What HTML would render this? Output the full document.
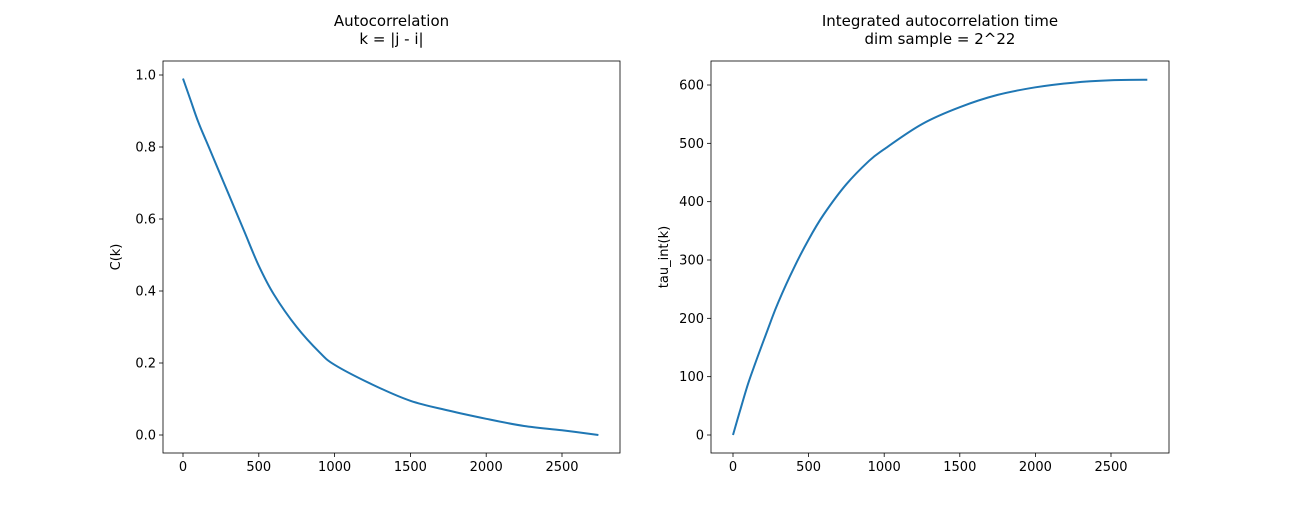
<!DOCTYPE html>
<html><head><meta charset="utf-8"><style>
body{margin:0;background:#fff;font-family:"Liberation Sans","DejaVu Sans",sans-serif}
svg text{font-family:"DejaVu Sans","Liberation Sans",sans-serif;font-size:13px;fill:#000}
</style></head><body>
<svg id="c" width="1299" height="509"></svg>
<script>
const ks=[0,50,100,150,200,250,300,400,500,600,750,900,1000,1250,1500,1750,2000,2250,2500,2740];
const acf=[0.99,0.93,0.87,0.82,0.77,0.72,0.67,0.57,0.47,0.39,0.30,0.23,0.195,0.14,0.095,0.068,0.045,0.025,0.013,0.0];
const tau=[0,45,88,125,160,195,228,285,335,378,430,470,490,533,562,583,596,604,608,609];
const xTicks=[0,500,1000,1500,2000,2500];
const yTicksL=[0,0.2,0.4,0.6,0.8,1.0];
const yTicksR=[0,100,200,300,400,500,600];
const NS="http://www.w3.org/2000/svg";
const svg=document.getElementById('c');
function el(t,a,p){const e=document.createElementNS(NS,t);for(const k in a)e.setAttribute(k,a[k]);(p||svg).appendChild(e);return e;}
function smooth(pts){
  let d='M'+pts[0][0].toFixed(1)+' '+pts[0][1].toFixed(1);
  for(let i=0;i<pts.length-1;i++){
    const p0=pts[Math.max(0,i-1)],p1=pts[i],p2=pts[i+1],p3=pts[Math.min(pts.length-1,i+2)];
    const c1=[p1[0]+(p2[0]-p0[0])/6,p1[1]+(p2[1]-p0[1])/6];
    const c2=[p2[0]-(p3[0]-p1[0])/6,p2[1]-(p3[1]-p1[1])/6];
    d+='C'+c1.map(v=>v.toFixed(1)).join(' ')+' '+c2.map(v=>v.toFixed(1)).join(' ')+' '+p2[0].toFixed(1)+' '+p2[1].toFixed(1);
  }
  return d;
}
function panel(x0,x1,y0,y1,xs,ys,vals,yt,fmt,titles,ylab,nm){
  const g=el('g',{});
  
  
  const b=el('rect',{x:x0,y:y0,width:x1-x0,height:y1-y0,fill:'none',stroke:'#000','stroke-width':0.8},g);
  
  
  xTicks.forEach(v=>{const x=xs(v);
    el('line',{x1:x,x2:x,y1:y1,y2:y1+4,stroke:'#000','stroke-width':0.8},g);
    const t=el('text',{x:x,y:y1+18,'text-anchor':'middle'},g);t.textContent=v;
    
    });
  yt.forEach(v=>{const y=ys(v);
    el('line',{x1:x0-4,x2:x0,y1:y,y2:y,stroke:'#000','stroke-width':0.8},g);
    const t=el('text',{x:x0-7,y:y+4.5,'text-anchor':'end'},g);t.textContent=fmt(v);
    
    });
  const p=el('path',{d:smooth(ks.map((k,i)=>[xs(k),ys(vals[i])])),fill:'none',stroke:'#1f77b4','stroke-width':2},g);
  
  
  titles.forEach((s,i)=>{const t=el('text',{x:(x0+x1)/2,y:y0-35+i*18,'text-anchor':'middle',style:'font-size:15px'},g);t.textContent=s;
    
    });
  const yl=el('text',{x:0,y:0,'text-anchor':'middle',transform:`translate(${x0-43},${(y0+y1)/2}) rotate(-90)`},g);yl.textContent=ylab;
  
  
}
panel(163,620,61,453,v=>183+v*(562-183)/2500,v=>435-v*360,acf,yTicksL,v=>v.toFixed(1),['Autocorrelation','k = |j - i|'],'C(k)','autocorrelation-panel');
panel(711,1169,61,453,v=>733+v*(1111-733)/2500,v=>435-v*350/600,tau,yTicksR,v=>String(v),['Integrated autocorrelation time','dim sample = 2^22'],'tau_int(k)','tau-panel');
</script>
</body></html>
